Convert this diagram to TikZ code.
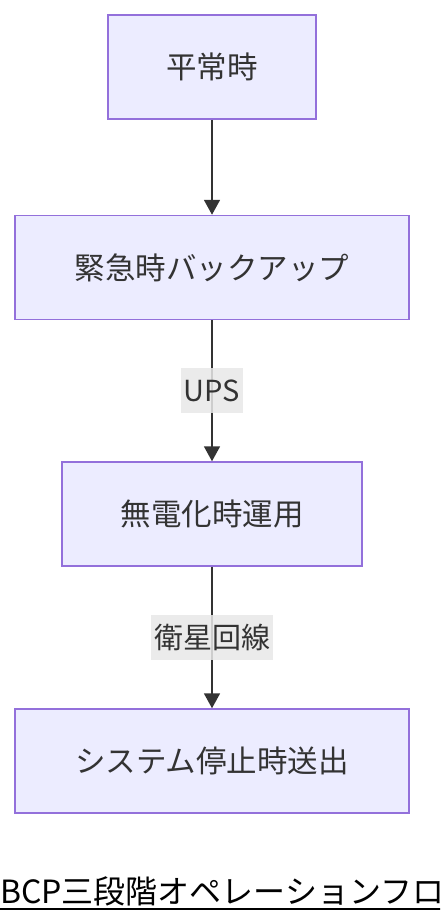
\documentclass[tikz,border=0pt]{standalone}
\usepackage{fontspec}
\setmainfont{Noto Sans CJK JP}
\usepackage{xcolor}
\usetikzlibrary{arrows.meta,positioning}
\definecolor{boxfill}{HTML}{ECECFF}
\definecolor{boxline}{HTML}{9370DB}
\definecolor{ink}{HTML}{333333}
\definecolor{labelbg}{HTML}{E8E8E8}
\tikzset{
	stage/.style={
			draw=boxline, fill=boxfill, line width=1.5pt, text=ink,
			minimum height=104pt, inner sep=0pt,
			font=\fontsize{30.5}{36}\selectfont
		},
	flow/.style={
			draw=ink, line width=1.8pt,
			-{Triangle[length=15pt,width=16pt]}
		},
	cond/.style={
			fill=labelbg, fill opacity=0.85, text opacity=1, text=ink,
			minimum height=45pt, inner xsep=3pt, inner ysep=0pt,
			font=\fontsize{29}{34}\selectfont
		}
}

\begin{document}
\begin{tikzpicture}[x=1pt, y=-1pt]
		\useasboundingbox (0,0) rectangle (440,924);
		\clip (0,0) rectangle (440,924);

		\node [stage, minimum width=208pt]	(normal)	at (212, 67)	{平常時};
		\node [stage, minimum width=394pt]	(backup)	at (212, 267.5)	{緊急時バックアップ};
		\node [stage, minimum width=300pt]	(offgrid)	at (212, 514)	{無電化時運用};
		\node [stage, minimum width=394pt]	(shutdown)	at (212, 761)	{システム停止時送出};

		\draw [flow]	(normal) to (backup);
		\draw [flow]	(backup) to node [cond]{UPS} (offgrid);
		\draw [flow]	(offgrid) to node [cond]{衛星回線} (shutdown);

		% title, runs past the right edge
		\node [anchor=base west, inner sep=0pt, font=\fontsize{32}{38}\selectfont]
			(title) at (0, 903) {BCP三段階オペレーションフロー};
		\draw [line width=1.5pt, black]	(title.west |- 0,909) to (title.east |- 0,909);
	\end{tikzpicture}
\end{document}
